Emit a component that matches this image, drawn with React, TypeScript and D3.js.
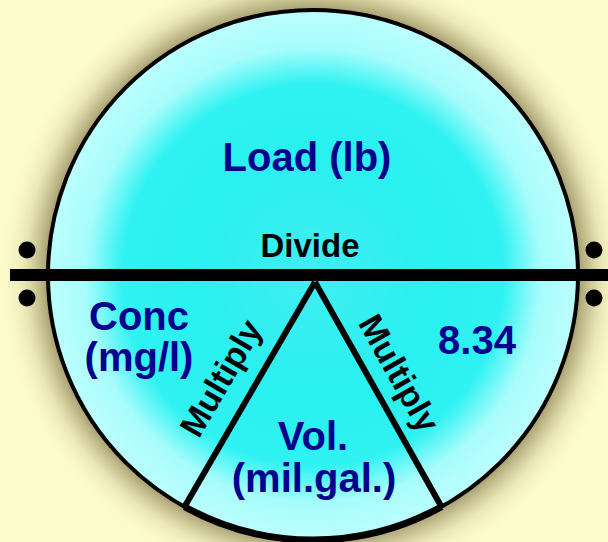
import React from "react";
import * as d3 from "d3";

const W = 608;
const H = 542;

// Diagram content
const topLabels = ["Load (lb)"];
const leftLabels = ["Conc", "(mg/l)"];
const rightLabels = ["8.34"];
const bottomLabels = ["Vol.", "(mil.gal.)"];
const operatorLabels = ["Divide", "Multiply", "Multiply"];
// angles (deg, from +x, clockwise in screen) where triangle legs meet the circle
const legAngles = [119, 61];

export default function App() {
  const cx = 313, cy = 275, r = 265;
  const apex = { x: 315, y: 282 };
  const pt = (deg: number) => {
    const a = (deg * Math.PI) / 180;
    return { x: cx + r * Math.cos(a), y: cy + r * Math.sin(a) };
  };
  const pL = pt(legAngles[0]);
  const pR = pt(legAngles[1]);
  const arcGen = d3.arc();
  const toD3 = (deg: number) => ((deg + 90) * Math.PI) / 180;
  const bottomArc = arcGen({
    innerRadius: r,
    outerRadius: r,
    startAngle: toD3(legAngles[1]),
    endAngle: toD3(legAngles[0]),
  } as any) as string;

  const blue = "#00008f";
  const font = "'Liberation Sans', Arial, sans-serif";
  const angL = (Math.atan2(apex.y - pL.y, apex.x - pL.x) * 180) / Math.PI;
  const angR = (Math.atan2(pR.y - apex.y, pR.x - apex.x) * 180) / Math.PI;

  return (
    <svg width={W} height={H} style={{ position: "fixed", left: 0, top: 0 }}>
      <defs>
        <radialGradient id="fillg" cx={cx} cy={cy} r={r} gradientUnits="userSpaceOnUse">
          <stop offset="0%" stopColor="#40eef2" />
          <stop offset="45%" stopColor="#2af0f0" />
          <stop offset="72%" stopColor="#30f2f2" />
          <stop offset="86%" stopColor="#a8fcfc" />
          <stop offset="100%" stopColor="#bcffff" />
        </radialGradient>
        <radialGradient id="shadow" cx={cx} cy={cy} r={r + 50} gradientUnits="userSpaceOnUse">
          <stop offset="0%" stopColor="#a49c6c" stopOpacity={1} />
          <stop offset={`${(r / (r + 50)) * 100}%`} stopColor="#a49c6c" stopOpacity={1} />
          <stop offset="92%" stopColor="#e4dfae" stopOpacity={0.7} />
          <stop offset="100%" stopColor="#fcfbcc" stopOpacity={0} />
        </radialGradient>
        <clipPath id="clip">
          <circle cx={cx} cy={cy} r={r} />
        </clipPath>
      </defs>
      <rect width={W} height={H} fill="#fcfbcc" />
      <circle cx={cx} cy={cy} r={r + 50} fill="url(#shadow)" />
      <circle cx={cx} cy={cy} r={r} fill="url(#fillg)" />
      <g clipPath="url(#clip)">
        <line x1={apex.x} y1={apex.y} x2={pL.x} y2={pL.y} stroke="#000" strokeWidth={6} />
        <line x1={apex.x} y1={apex.y} x2={pR.x} y2={pR.y} stroke="#000" strokeWidth={6} />
      </g>
      <circle cx={cx} cy={cy} r={r} fill="none" stroke="#000" strokeWidth={4} />
      <path d={bottomArc} transform={`translate(${cx},${cy})`} fill="none" stroke="#000" strokeWidth={7} />
      <line x1={10} y1={cy} x2={W} y2={cy} stroke="#000" strokeWidth={12} />
      {[27, 594].map((x) => (
        <g key={x}>
          <circle cx={x} cy={250} r={8.5} fill="#000" />
          <circle cx={x} cy={298} r={8.5} fill="#000" />
        </g>
      ))}
      <g fontFamily={font} fontWeight="bold" textAnchor="middle">
        <text x={307} y={171} fontSize={40} fill={blue}>{topLabels[0]}</text>
        <text x={310} y={257} fontSize={33} fill="#000">{operatorLabels[0]}</text>
        <text x={139} y={330} fontSize={40} fill={blue}>{leftLabels[0]}</text>
        <text x={139} y={371} fontSize={40} fill={blue}>{leftLabels[1]}</text>
        <text x={477} y={354} fontSize={40} fill={blue}>{rightLabels[0]}</text>
        <text x={313} y={450} fontSize={40} fill={blue}>{bottomLabels[0]}</text>
        <text x={314} y={492} fontSize={40} fill={blue}>{bottomLabels[1]}</text>
        <text transform={`translate(238,388) rotate(${angL})`} fontSize={34} fill="#000" dy={-8}>
          {operatorLabels[1]}
        </text>
        <text transform={`translate(382,383) rotate(${angR})`} fontSize={34} fill="#000" dy={-8}>
          {operatorLabels[2]}
        </text>
      </g>
    </svg>
  );
}
